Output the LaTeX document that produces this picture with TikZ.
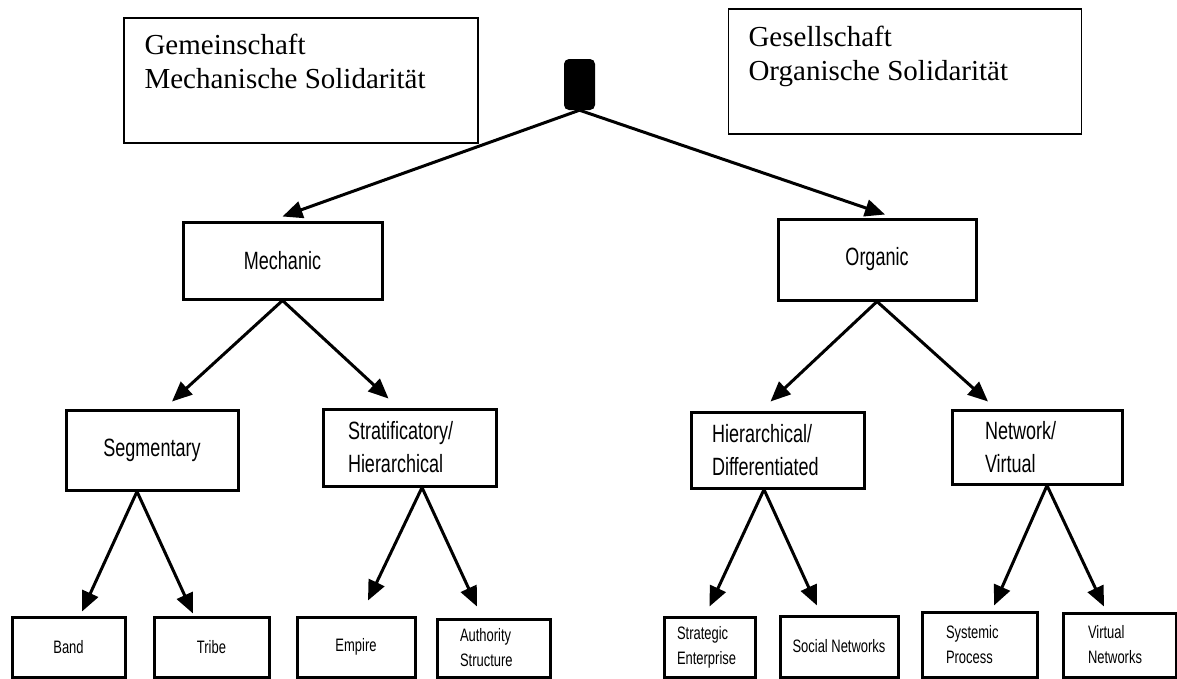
\documentclass[tikz,border=0pt]{standalone}
\usepackage{fontspec}
\setmainfont{Liberation Serif}
\newfontfamily\narrowsans[FakeStretch=0.72]{Liberation Sans}
\usetikzlibrary{arrows.meta, positioning}

\newcommand{\titlefont}{\fontsize{29}{34}\selectfont}
\newcommand{\midfont}{\narrowsans\fontsize{25}{33}\selectfont}
\newcommand{\leaffont}{\narrowsans\fontsize{18}{25}\selectfont}

\begin{document}
\begin{tikzpicture}[x=1pt, y=-1pt, >={Triangle[length=20pt, width=17pt]}]
        % Solidarity tree: two types, each split twice
        \useasboundingbox (0,0) rectangle (1177,678);

        \node[draw, rectangle, line width=1.3pt, minimum width=354pt, minimum height=125pt] (gem) at (301,80.5) {};
        \node[anchor=north west, inner sep=0pt, align=left, font=\titlefont] (gemtext) at ([xshift=21pt, yshift=-17pt]gem.north west) {Gemeinschaft\\Mechanische Solidarität};
        \node[draw, rectangle, line width=1.3pt, minimum width=353pt, minimum height=125pt] (ges) at (905,71.5) {};
        \node[anchor=north west, inner sep=0pt, align=left, font=\titlefont] (gestext) at ([xshift=20.5pt, yshift=-18pt]ges.north west) {Gesellschaft\\Organische Solidarität};
        \node[fill=black, rounded corners=5pt, inner sep=0pt, minimum width=31pt, minimum height=51pt] (root) at (579.5,84.5) {};

        \node[draw, rectangle, line width=3pt, font=\midfont, minimum width=199pt, minimum height=77pt] (mech) at (282.5,260.5) {Mechanic};
        \node[draw, rectangle, line width=3pt, font=\midfont, minimum width=198pt, minimum height=81pt] (org) at (877,259.5) {Organic};

        \node[draw, rectangle, line width=3pt, font=\midfont, minimum width=172pt, minimum height=80pt] (seg) at (152,450) {Segmentary};
        \node[draw, rectangle, line width=3pt, font=\midfont, align=left, text width=123pt, inner xsep=25pt, minimum height=77pt] (strat) at (409.5,447.5) {Stratificatory/\\Hierarchical};
        \node[draw, rectangle, line width=3pt, font=\midfont, align=left, text width=131pt, inner xsep=21pt, minimum height=76pt] (hier) at (777.5,450) {Hierarchical/\\Differentiated};
        \node[draw, rectangle, line width=3pt, font=\midfont, align=left, text width=104pt, inner xsep=33pt, minimum height=74pt] (net) at (1037,447) {Network/\\Virtual};

        \node[draw, rectangle, line width=3pt, font=\leaffont, minimum width=113pt, minimum height=60pt] (band) at (68.5,647) {Band};
        \node[draw, rectangle, line width=3pt, font=\leaffont, minimum width=115pt, minimum height=60pt] (tribe) at (211.5,647) {Tribe};
        \node[draw, rectangle, line width=3pt, font=\leaffont, minimum width=118pt, minimum height=60pt] (empire) at (356,647) {Empire};
        \node[draw, rectangle, line width=3pt, font=\leaffont, align=left, text width=67pt, inner xsep=23pt, minimum height=58pt] (auth) at (493.5,648) {Authority\\Structure};
        \node[draw, rectangle, line width=3pt, font=\leaffont, align=left, text width=65pt, inner xsep=13pt, minimum height=60pt] (strent) at (709.5,647) {Strategic\\Enterprise};
        \node[draw, rectangle, line width=3pt, font=\leaffont, minimum width=118pt, minimum height=61pt] (social) at (839,646.5) {Social Networks};
        \node[draw, rectangle, line width=3pt, font=\leaffont, align=left, text width=67pt, inner xsep=24pt, minimum height=65pt] (sysproc) at (979.5,644.5) {Systemic\\Process};
        \node[draw, rectangle, line width=3pt, font=\leaffont, align=left, text width=63pt, inner xsep=25pt, minimum height=64pt] (virtnet) at (1119.5,645) {Virtual\\Networks};

        \draw[->, line width=3pt] (root.south) -- ([yshift=4pt]mech.north);
        \draw[->, line width=3pt] (root.south) -- ([xshift=8pt, yshift=3pt]org.north);
        \draw[->, line width=3pt] (mech.south) -- ([xshift=20pt, yshift=7pt]seg.north);
        \draw[->, line width=3pt] (mech.south) -- ([xshift=-21pt, yshift=9pt]strat.north);
        \draw[->, line width=3pt] (org.south) -- ([xshift=-7pt, yshift=9pt]hier.north);
        \draw[->, line width=3pt] (org.south) -- ([xshift=-49pt, yshift=7pt]net.north);
        \draw[->, line width=3pt] ([xshift=-15pt]seg.south) -- ([xshift=13.5pt, yshift=4pt]band.north);
        \draw[->, line width=3pt] ([xshift=-15pt]seg.south) -- ([xshift=-18.5pt, yshift=2pt]tribe.north);
        \draw[->, line width=3pt] ([xshift=12.5pt]strat.south) -- ([xshift=12pt, yshift=15pt]empire.north);
        \draw[->, line width=3pt] ([xshift=12.5pt]strat.south) -- ([xshift=-16.5pt, yshift=11pt]auth.north);
        \draw[->, line width=3pt] ([xshift=-13.5pt]hier.south) -- ([yshift=9pt]strent.north);
        \draw[->, line width=3pt] ([xshift=-13.5pt]hier.south) -- ([xshift=-22pt, yshift=9pt]social.north);
        \draw[->, line width=3pt] ([xshift=10pt]net.south) -- ([xshift=14.5pt, yshift=5pt]sysproc.north);
        \draw[->, line width=3pt] ([xshift=10pt]net.south) -- ([xshift=-15.5pt, yshift=5pt]virtnet.north);
\end{tikzpicture}
\end{document}
